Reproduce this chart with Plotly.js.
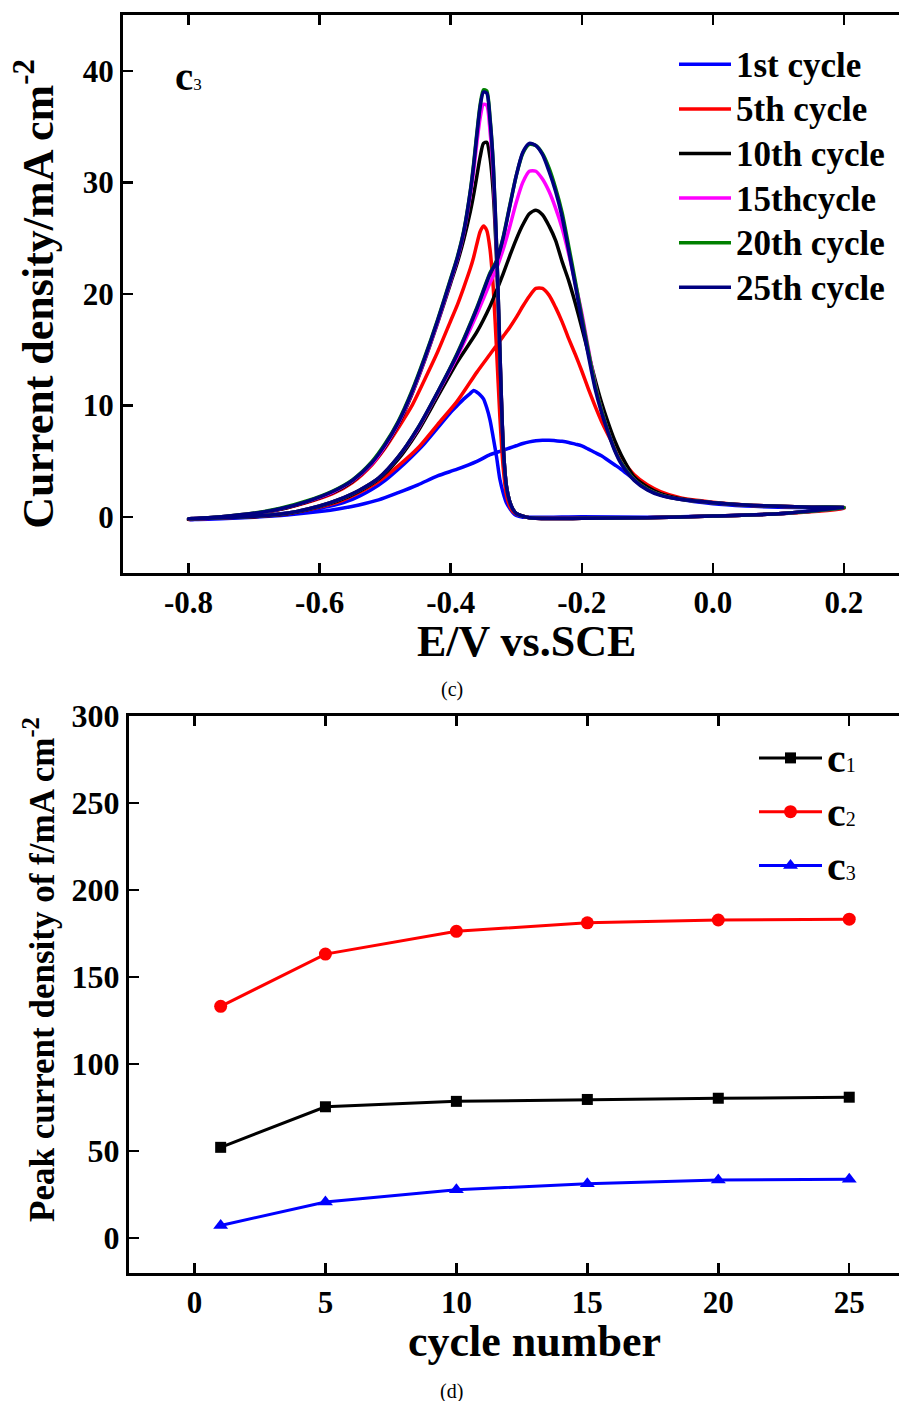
<!DOCTYPE html>
<html>
<head>
<meta charset="utf-8">
<script src="https://cdn.plot.ly/plotly-3.0.1.min.js"></script>
<style>html,body{margin:0;padding:0;background:#fff;overflow:hidden;}#chart{width:899px;height:1401px;}</style>
</head>
<body>
<div id="chart"></div>
<script>
// ---------- Panel (c): cyclic voltammograms ----------
var fwdE = [-0.8,-0.75,-0.7,-0.65,-0.6,-0.57,-0.54,-0.51,-0.48,-0.45,-0.42,-0.39,-0.36,-0.34,-0.33,-0.32,-0.31,-0.30,-0.29,-0.28,-0.27,-0.26,-0.25,-0.24,-0.23,-0.22,-0.21,-0.20,-0.19,-0.18,-0.17,-0.16,-0.15,-0.14,-0.12,-0.10,-0.08,-0.05,0.0,0.05,0.1,0.15,0.2];
var revE = [0.2,0.1,0.0,-0.1,-0.2,-0.25,-0.28,-0.29,-0.30,-0.305,-0.31,-0.315,-0.32,-0.325,-0.33,-0.335,-0.34,-0.345,-0.35,-0.355,-0.36,-0.365,-0.37,-0.38,-0.39,-0.40,-0.42,-0.44,-0.46,-0.48,-0.50,-0.52,-0.55,-0.58,-0.62,-0.66,-0.70,-0.75,-0.8];

var fwd1  = [-0.25,-0.15,0.0,0.2,0.5,0.75,1.1,1.55,2.2,2.9,3.7,4.3,5.0,5.6,5.8,6.0,6.2,6.4,6.6,6.75,6.85,6.9,6.9,6.85,6.8,6.7,6.55,6.4,6.1,5.8,5.5,5.1,4.7,4.3,3.4,2.6,2.1,1.6,1.2,1.0,0.9,0.85,0.8];
var fwd5  = [-0.2,-0.05,0.05,0.3,0.9,1.4,2.2,3.2,4.6,6.2,8.3,10.4,13.0,14.6,15.4,16.2,17.0,17.9,18.9,19.8,20.5,20.5,19.9,18.8,17.5,16.0,14.6,13.1,11.5,10.0,8.6,7.4,6.3,5.3,3.8,2.9,2.3,1.75,1.35,1.1,0.98,0.9,0.85];
var fwd10 = [-0.15,-0.05,0.05,0.3,0.95,1.5,2.3,3.4,5.2,7.7,10.8,13.9,16.6,18.9,20.3,21.8,23.4,24.9,26.2,27.2,27.5,27.1,26.1,24.8,22.9,21.2,19.2,17.0,14.7,12.4,10.3,8.5,6.9,5.6,3.6,2.7,2.1,1.65,1.3,1.1,0.98,0.9,0.88];
var fwd15 = [-0.15,-0.05,0.08,0.35,1.0,1.6,2.4,3.5,5.4,7.9,11.1,14.4,18.2,21.0,22.3,24.0,26.0,28.2,30.0,31.0,31.0,30.3,29.2,27.7,25.9,23.6,21.0,18.3,15.1,12.0,9.6,7.7,6.1,4.9,3.35,2.5,2.0,1.6,1.3,1.1,0.98,0.9,0.88];
var fwd20 = [-0.15,-0.05,0.08,0.35,1.0,1.6,2.4,3.5,5.4,8.0,11.2,14.7,18.8,21.9,23.0,25.1,27.9,30.6,32.6,33.4,33.3,32.6,31.3,29.5,27.3,24.3,21.2,18.0,14.9,11.9,9.6,7.7,6.1,4.9,3.35,2.5,2.0,1.6,1.3,1.1,0.98,0.9,0.88];
var fwd25 = [-0.15,-0.05,0.08,0.35,1.0,1.6,2.4,3.5,5.4,8.0,11.2,14.6,18.7,21.8,22.9,25.0,27.8,30.6,32.7,33.5,33.3,32.5,31.0,29.2,26.9,23.9,20.8,17.6,14.5,11.6,9.4,7.6,6.0,4.8,3.3,2.45,1.95,1.6,1.3,1.1,0.98,0.9,0.88];

var rev1  = [0.8,0.3,0.1,0.0,0.05,0.0,0.0,0.0,0.15,0.4,0.8,1.3,2.2,3.4,5.4,7.1,8.7,9.8,10.6,10.95,11.2,11.35,11.1,10.6,10.0,9.4,8.0,6.6,5.4,4.3,3.3,2.5,1.6,1.05,0.6,0.3,0.12,-0.05,-0.25];
var rev5  = [0.8,0.3,0.1,-0.05,-0.1,-0.12,-0.05,0.1,0.3,0.5,1.0,2.0,4.5,9.0,15.0,20.5,24.0,25.7,26.1,25.6,24.5,23.3,22.3,20.6,19.0,17.6,14.8,12.3,9.9,8.0,6.2,4.7,3.1,2.1,1.3,0.7,0.3,0.0,-0.2];
var rev10 = [0.85,0.3,0.1,-0.05,-0.1,-0.12,-0.05,0.1,0.35,0.7,1.4,2.8,6.5,14.5,23.0,29.0,32.2,33.6,33.5,32.3,30.6,28.9,27.4,24.9,22.8,21.0,17.4,14.0,10.9,8.3,6.3,4.8,3.2,2.2,1.35,0.7,0.3,0.0,-0.15];
var rev15 = [0.85,0.3,0.1,-0.05,-0.1,-0.12,-0.05,0.1,0.35,0.7,1.4,2.8,6.5,15.0,24.0,30.5,34.6,36.9,37.0,35.8,33.6,31.0,28.9,25.5,23.1,21.2,17.5,14.1,11.0,8.4,6.4,4.8,3.25,2.25,1.4,0.75,0.35,0.05,-0.15];
var rev20 = [0.85,0.3,0.1,-0.05,-0.1,-0.12,-0.05,0.1,0.35,0.7,1.4,2.8,6.5,15.0,24.3,31.6,35.8,38.2,38.3,37.0,34.5,31.7,29.3,25.7,23.3,21.4,17.7,14.3,11.2,8.6,6.6,5.0,3.35,2.35,1.45,0.8,0.38,0.05,-0.15];
var rev25 = [0.88,0.3,0.1,-0.05,-0.1,-0.12,-0.05,0.1,0.35,0.7,1.4,2.8,6.5,15.0,24.3,31.5,35.6,38.0,38.1,36.8,34.3,31.5,29.2,25.6,23.2,21.3,17.6,14.2,11.1,8.5,6.5,4.9,3.3,2.3,1.4,0.75,0.35,0.05,-0.15];

var cvNames  = ['1st cycle','5th cycle','10th cycle','15thcycle','20th cycle','25th cycle'];
var cvColors = ['#0000ff','#ff0000','#000000','#ff00ff','#008000','#000080'];
var cvFwd = [fwd1, fwd5, fwd10, fwd15, fwd20, fwd25];
var cvRev = [rev1, rev5, rev10, rev15, rev20, rev25];

var eTickVals = [-0.8,-0.6,-0.4,-0.2,0.0,0.2];
var eTickText = ['-0.8','-0.6','-0.4','-0.2','0.0','0.2'];
var iTickVals = [0,10,20,30,40];

// ---------- Panel (d): peak current density vs cycle ----------
var cycles = [1,5,10,15,20,25];
var c1 = [52.2,75.5,78.6,79.7,80.4,81.0];
var c2 = [133.2,163.2,176.3,181.2,182.8,183.3];
var c3 = [7.3,20.8,27.8,31.3,33.5,33.8];
var cycTickVals = [0,5,10,15,20,25];
var peakTickVals = [0,50,100,150,200,250,300];

var FONT = 'Liberation Serif, Times New Roman, serif';
var traces = [];
for (var k = 0; k < cvNames.length; k++) {
  traces.push({
    type: 'scatter', mode: 'lines', name: '<span style="font-size:35px">' + cvNames[k] + '</span>',
    x: fwdE.concat(revE), y: cvFwd[k].concat(cvRev[k]),
    xaxis: 'x', yaxis: 'y', legend: 'legend',
    line: {color: cvColors[k], width: 3.5, shape: 'spline', smoothing: 0.7},
    hoverinfo: 'skip'
  });
}
var sub = function(d){ return '<span style="font-size:42px">c</span><span style="font-size:20px;font-weight:normal">' + d + '</span>'; };
var peakSeries = [
  {y: c1, name: sub(1), color: '#000000', symbol: 'square', size: 11},
  {y: c2, name: sub(2), color: '#ff0000', symbol: 'circle', size: 13},
  {y: c3, name: sub(3), color: '#0000ff', symbol: 'triangle-up', size: 13}
];
peakSeries.forEach(function(s, i){
  traces.push({
    type: 'scatter', mode: 'lines+markers', name: s.name,
    x: cycles, y: s.y, xaxis: 'x2', yaxis: 'y2', legend: 'legend2', legendgroup: 'g' + i,
    line: {color: s.color, width: 3},
    marker: {color: s.color, symbol: s.symbol, size: s.size}
  });
});

var W = 899, H = 1401;
function axisBase(fs) {
  return {showline: true, linewidth: 3, linecolor: '#000', ticks: 'inside', ticklen: 10, tickwidth: 2.5,
    tickcolor: '#000', showgrid: false, zeroline: false, tickmode: 'array',
    tickfont: {family: FONT, size: fs, color: '#000', weight: 700}};
}
var xa = axisBase(31);
Object.assign(xa, {domain: [123/W, 1], range: [-0.9, 0.284], anchor: 'y', mirror: 'ticks',
  tickvals: eTickVals, ticktext: eTickText});
var ya = axisBase(31);
Object.assign(ya, {domain: [1 - 573/H, 1 - 15/H], range: [-5, 45], anchor: 'x', tickvals: iTickVals,
  title: {text: 'Current density/mA cm<sup>-2</sup>', font: {family: FONT, size: 44, color: '#000', weight: 700}, standoff: 16}});
var xb = axisBase(31);
Object.assign(xb, {domain: [129/W, 1], range: [-2.5, 26.9], anchor: 'y2', mirror: 'ticks', tickvals: cycTickVals});
var yb = axisBase(32);
Object.assign(yb, {domain: [1 - 1273/H, 1 - 716/H], range: [-20, 300], anchor: 'x2', tickvals: peakTickVals});

var titleFont = {family: FONT, size: 44, color: '#000', weight: 700};
var layout = {
  width: W, height: H, margin: {l: 0, r: 0, t: 0, b: 0},
  paper_bgcolor: '#fff', plot_bgcolor: '#fff',
  font: {family: FONT, color: '#000'},
  showlegend: true,
  xaxis: xa, yaxis: ya, xaxis2: xb, yaxis2: yb,
  legend: {x: 674/W, xanchor: 'left', y: 1 - 37/H, yanchor: 'top', bgcolor: 'rgba(0,0,0,0)',
    font: {family: FONT, size: 32, color: '#000', weight: 700}, itemwidth: 52, tracegroupgap: 0},
  legend2: {x: 754/W, xanchor: 'left', y: 1 - 728/H, yanchor: 'top', bgcolor: 'rgba(0,0,0,0)',
    font: {family: FONT, size: 36, color: '#000', weight: 700}, itemwidth: 63, tracegroupgap: 4},
  annotations: [
    {xref: 'paper', yref: 'paper', x: 526/W, y: 1 - 641/H, xanchor: 'center', yanchor: 'middle', showarrow: false,
     text: 'E/V vs.SCE', font: titleFont},
    {xref: 'paper', yref: 'paper', x: 534/W, y: 1 - 1341/H, xanchor: 'center', yanchor: 'middle', showarrow: false,
     text: 'cycle number', font: titleFont},
    {xref: 'paper', yref: 'paper', x: 39/W, y: 1 - 970/H, xanchor: 'center', yanchor: 'middle', showarrow: false, textangle: -90,
     text: 'Peak current density of f/mA cm<sup>-2</sup>', font: {family: FONT, size: 35, color: '#000', weight: 700}},
    {xref: 'paper', yref: 'paper', x: 173/W, y: 1 - 76/H, xanchor: 'left', yanchor: 'middle', showarrow: false,
     text: 'c<span style="font-size:17px;font-weight:normal">3</span>', font: {family: FONT, size: 41, color: '#000', weight: 700}},
    {xref: 'paper', yref: 'paper', x: 452/W, y: 1 - 690/H, xanchor: 'center', yanchor: 'middle', showarrow: false,
     text: '(c)', font: {family: FONT, size: 20, color: '#000'}},
    {xref: 'paper', yref: 'paper', x: 452/W, y: 1 - 1391/H, xanchor: 'center', yanchor: 'middle', showarrow: false,
     text: '(d)', font: {family: FONT, size: 20, color: '#000'}}
  ]
};
Plotly.newPlot('chart', traces, layout, {displayModeBar: false, staticPlot: true});
</script>
</body>
</html>
